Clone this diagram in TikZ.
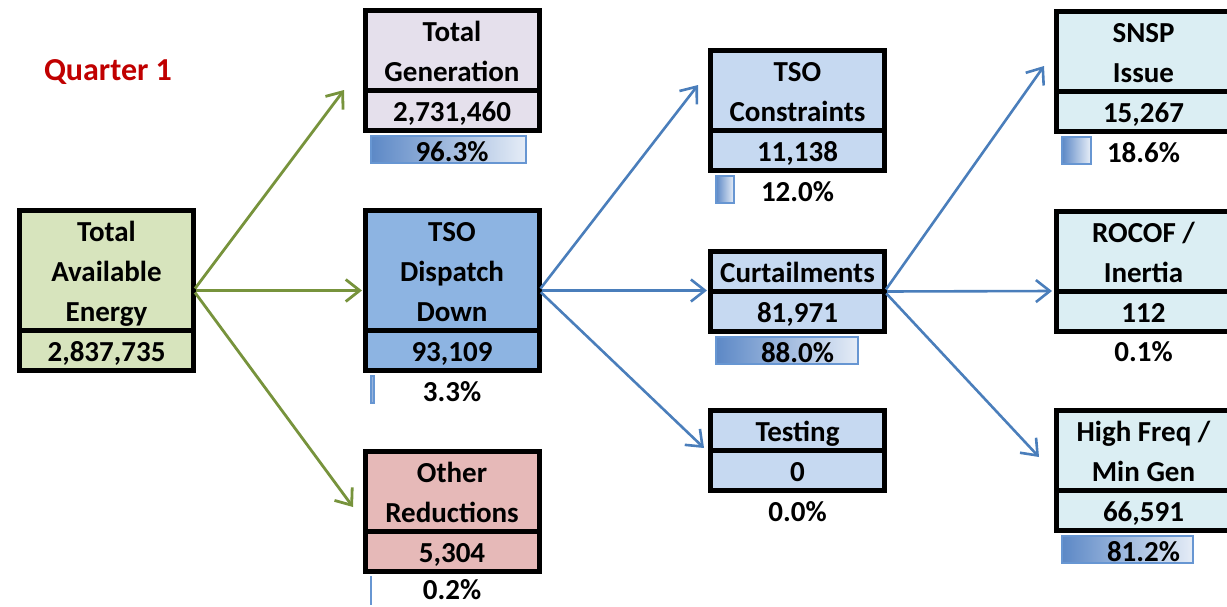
\documentclass[tikz,border=0pt]{standalone}
\usepackage{fontspec}
\setmainfont{Carlito}
\usetikzlibrary{positioning,calc,arrows.meta}
\definecolor{taefill}{RGB}{215,228,189}
\definecolor{genfill}{RGB}{229,224,236}
\definecolor{tsofill}{RGB}{141,180,226}
\definecolor{othfill}{RGB}{230,185,184}
\definecolor{midfill}{RGB}{198,217,241}
\definecolor{rhsfill}{RGB}{219,238,243}
\definecolor{qred}{RGB}{192,0,0}
\definecolor{arrgreen}{RGB}{119,147,60}
\definecolor{arrblue}{RGB}{74,126,187}
\definecolor{bardark}{RGB}{92,136,198}
\definecolor{barlight}{RGB}{230,237,247}
\definecolor{barline}{RGB}{103,150,210}
\newcommand{\cellstrut}{\rule[-9pt]{0pt}{40pt}}

\begin{document}
\begin{tikzpicture}[
    x=1pt, y=-1pt,
    every node/.style={font=\bfseries\fontsize{29}{40}\selectfont},
    cell/.style={draw, line width=5pt, inner sep=0pt, outer sep=0pt, minimum width=174pt, align=center,
        execute at end node=\cellstrut},
    title/.style={cell, anchor=north},
    value/.style={cell, minimum height=40pt},
    bar/.style={draw=barline, line width=2pt, inner sep=0pt, outer sep=0pt, minimum height=27pt,
        left color=bardark, right color=barlight},
    pct/.style={inner sep=0pt, text height=19pt, text depth=0pt},
    greenarrow/.style={draw=arrgreen, line width=2.8pt, shorten <=2.5pt, -{Straight Barb[length=14pt, width=22pt]}},
    bluearrow/.style={draw=arrblue, line width=2.6pt, shorten <=2.5pt, -{Straight Barb[length=14pt, width=22pt]}}
]
\useasboundingbox (0,0) rectangle (1227,606);

\node[text=qred, font=\bfseries\fontsize{32}{38}\selectfont] (q1) at (108, 72) {Quarter 1};

% first column
\node[title, fill=taefill, minimum height=120pt] (tae-t) at (106.5, 210.5) {\cellstrut Total\\Available\\Energy};
\node[value, fill=taefill, below=0pt of tae-t] (tae-v) {\cellstrut 2,837,735};

% second column
\node[title, fill=genfill, minimum height=80pt] (tg-t) at (452, 10.5) {\cellstrut Total\\Generation};
\node[value, fill=genfill, below=0pt of tg-t] (tg-v) {\cellstrut 2,731,460};

\node[title, fill=tsofill, minimum height=120pt] (tsod-t) at (452, 210.5) {\cellstrut TSO\\Dispatch\\Down};
\node[value, fill=tsofill, below=0pt of tsod-t] (tsod-v) {\cellstrut 93,109};

\node[title, fill=othfill, minimum height=80pt] (oth-t) at (452, 451.5) {\cellstrut Other\\Reductions};
\node[value, fill=othfill, below=0pt of oth-t] (oth-v) {\cellstrut 5,304};

% third column
\node[title, fill=midfill, minimum height=80pt] (cons-t) at (797.5, 50.5) {\cellstrut TSO\\Constraints};
\node[value, fill=midfill, below=0pt of cons-t] (cons-v) {\cellstrut 11,138};

\node[title, fill=midfill, minimum height=40pt] (curt-t) at (797.5, 251.5) {\cellstrut Curtailments};
\node[value, fill=midfill, below=0pt of curt-t] (curt-v) {\cellstrut 81,971};

\node[title, fill=midfill, minimum height=40pt] (test-t) at (797.5, 410.5) {\cellstrut Testing};
\node[value, fill=midfill, below=0pt of test-t] (test-v) {\cellstrut 0};

% fourth column
\node[title, fill=rhsfill, minimum height=80pt] (snsp-t) at (1143.5, 11.5) {\cellstrut SNSP\\Issue};
\node[value, fill=rhsfill, below=0pt of snsp-t] (snsp-v) {\cellstrut 15,267};

\node[title, fill=rhsfill, minimum height=80pt] (rocof-t) at (1143.5, 211) {\cellstrut ROCOF /\\Inertia};
\node[value, fill=rhsfill, below=0pt of rocof-t] (rocof-v) {\cellstrut 112};

\node[title, fill=rhsfill, minimum height=80pt] (hf-t) at (1143.5, 410.5) {\cellstrut High Freq /\\Min Gen};
\node[value, fill=rhsfill, below=0pt of hf-t] (hf-v) {\cellstrut 66,591};

% Percentage bars
\node[bar, minimum width=155.9pt, below right=5.5pt and 5.5pt of tg-v.south west] (tg-bar) {};
\node[bar, minimum width=3.4pt, below right=5.5pt and 5.5pt of tsod-v.south west] (tsod-bar) {};
\node[bar, minimum width=0.3pt, below right=5.5pt and 5.5pt of oth-v.south west] (oth-bar) {};
\node[bar, minimum width=17.7pt, below right=5.5pt and 5.5pt of cons-v.south west] (cons-bar) {};
\node[bar, minimum width=142.3pt, below right=5.5pt and 5.5pt of curt-v.south west] (curt-bar) {};
\node[bar, minimum width=28.5pt, below right=5.5pt and 5.5pt of snsp-v.south west] (snsp-bar) {};
\node[bar, minimum width=131.2pt, below right=5.5pt and 5.5pt of hf-v.south west] (hf-bar) {};

\node[pct, below=11.5pt of tg-v] (tg-pct) {96.3\%};
\node[pct, below=11.5pt of tsod-v] (tsod-pct) {3.3\%};
\node[pct, below=8.5pt of oth-v] (oth-pct) {0.2\%};
\node[pct, below=11.5pt of cons-v] (cons-pct) {12.0\%};
\node[pct, below=11.5pt of curt-v] (curt-pct) {88.0\%};
\node[pct, below=11.5pt of test-v] (test-pct) {0.0\%};
\node[pct, below=11.5pt of snsp-v] (snsp-pct) {18.6\%};
\node[pct, below=11.5pt of rocof-v] (rocof-pct) {0.1\%};
\node[pct, below=11.5pt of hf-v] (hf-pct) {81.2\%};

% Connections
\coordinate (tae-out) at ($(tae-t.north east)!0.5!(tae-v.south east)$);
\coordinate (tsod-out) at ($(tsod-t.north east)!0.5!(tsod-v.south east)$);
\coordinate (curt-out) at (curt-t.south east);

\coordinate (tg-in) at (344, 90);
\coordinate (tsod-in) at (362, 290.5);
\coordinate (oth-in) at (353, 507);
\coordinate (cons-in) at (698, 85);
\coordinate (curt-in) at (707, 290.5);
\coordinate (test-in) at (704, 448);
\coordinate (snsp-in) at (1044, 66);
\coordinate (rocof-in) at (1052, 291);
\coordinate (hf-in) at (1039, 457);

\foreach \t in {tg-in, tsod-in, oth-in}
    \draw[greenarrow] (tae-out) -- (\t);

\foreach \t in {cons-in, curt-in, test-in}
    \draw[bluearrow] (tsod-out) -- (\t);

\foreach \t in {snsp-in, rocof-in, hf-in}
    \draw[bluearrow] (curt-out) -- (\t);

\end{tikzpicture}
\end{document}
